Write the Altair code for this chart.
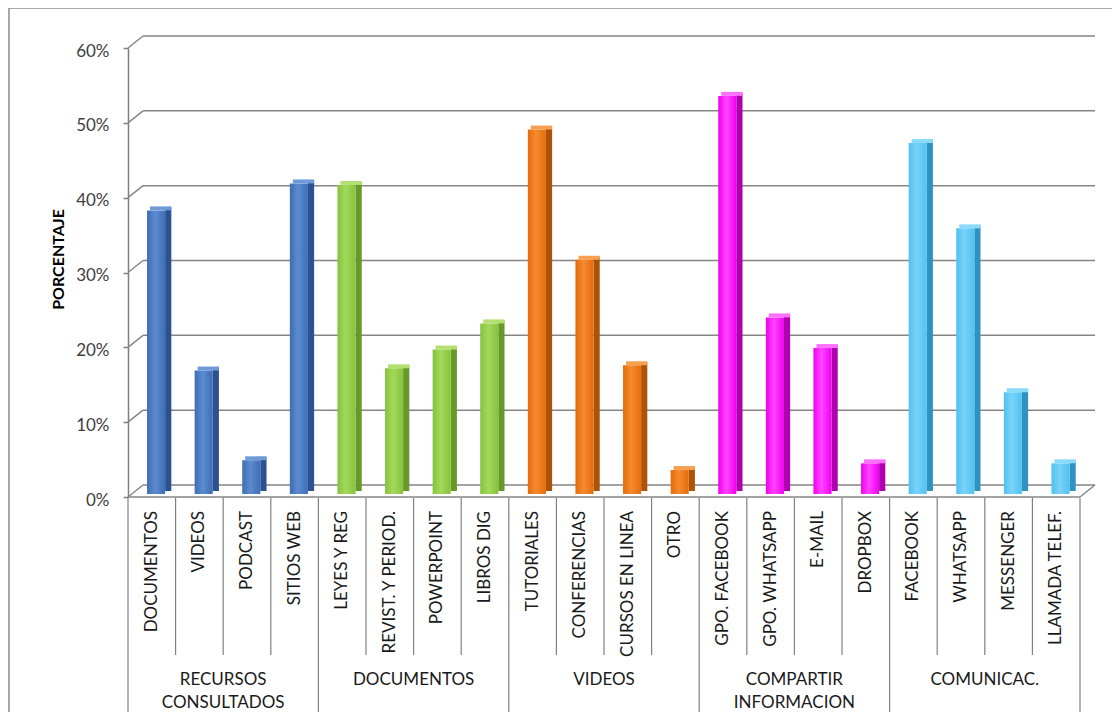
import altair as alt
import pandas as pd

categories = ["DOCUMENTOS", "VIDEOS", "PODCAST", "SITIOS WEB",
              "LEYES Y REG", "REVIST. Y PERIOD.", "POWERPOINT", "LIBROS DIG",
              "TUTORIALES", "CONFERENCIAS", "CURSOS EN LINEA", "OTRO",
              "GPO. FACEBOOK", "GPO. WHATSAPP", "E-MAIL", "DROPBOX",
              "FACEBOOK", "WHATSAPP", "MESSENGER", "LLAMADA TELEF."]
groups = ["RECURSOS\nCONSULTADOS"] * 4 + ["DOCUMENTOS"] * 4 + ["VIDEOS"] * 4 + \
         ["COMPARTIR\nINFORMACION"] * 4 + ["COMUNICAC."] * 4
values = [37.9, 16.5, 4.5, 41.5,
          41.3, 16.8, 19.3, 22.8,
          48.7, 31.3, 17.2, 3.2,
          53.2, 23.6, 19.5, 4.1,
          46.9, 35.5, 13.6, 4.1]
group_names = ["RECURSOS\nCONSULTADOS", "DOCUMENTOS", "VIDEOS",
               "COMPARTIR\nINFORMACION", "COMUNICAC."]
tick_values = [0.0, 0.1, 0.2, 0.3, 0.4, 0.5, 0.6]

palette = {
    "RECURSOS\nCONSULTADOS": ("#3E6DB4", "#5B8BD0", "#2A5192", "#6E9AD8"),
    "DOCUMENTOS": ("#86C23A", "#A3D95C", "#66982A", "#B2E070"),
    "VIDEOS": ("#E46C0A", "#F58A30", "#AE5206", "#F7A050"),
    "COMPARTIR\nINFORMACION": ("#EE00EE", "#FF45FF", "#AE00AE", "#FF70FF"),
    "COMUNICAC.": ("#4FC1F2", "#7AD3F8", "#2E92C2", "#8ADBFA"),
}

W, H = 952, 449
FONT = "Lato"

df = pd.DataFrame({
    "i": list(range(len(categories))),
    "category": categories,
    "group": groups,
    "value": [v / 100 for v in values],
})

xs = alt.Scale(domain=[0, len(categories)], nice=False, zero=False)
ys = alt.Scale(domain=[0, 0.6], nice=False)

base = alt.Chart(df)

# back wall gridlines
ticks_df = pd.DataFrame({"t": tick_values, "x0": 0, "x1": len(categories)})
grid = alt.Chart(ticks_df).mark_rule(
    color="#858585", strokeWidth=1.5, xOffset=15, x2Offset=15, yOffset=-12, y2Offset=-12
).encode(x=alt.X("x0:Q", scale=xs, axis=None), x2="x1:Q",
         y=alt.Y("t:Q", scale=ys,
                 axis=alt.Axis(values=tick_values, format=".0%", tickSize=5,
                               domainColor="#808080", tickColor="#808080",
                               domainWidth=1.5, tickWidth=1.5,
                               labelColor="#404040", labelFontSize=17, labelFont=FONT,
                               labelPadding=14, labelOffset=3, grid=False,
                               title="PORCENTAJE", titleFont=FONT, titleFontSize=16,
                               titleFontWeight="bold", titleColor="#000000",
                               titleX=-70, titleY=211, titleAngle=270,
                               titleAlign="center", titleBaseline="middle")),
         y2="t:Q")
conn = alt.Chart(ticks_df).mark_rule(
    color="#858585", strokeWidth=1.5, x2Offset=15, y2Offset=-12
).encode(x=alt.X("x0:Q", scale=xs), x2="x0:Q", y=alt.Y("t:Q", scale=ys), y2="t:Q")

floor_df = pd.DataFrame({"x0": [0], "x1": [len(categories)], "y0": [0.0]})
floor_front = alt.Chart(floor_df).mark_rule(color="#858585", strokeWidth=1.5).encode(
    x=alt.X("x0:Q", scale=xs), x2="x1:Q", y=alt.Y("y0:Q", scale=ys), y2="y0:Q")
floor_right = alt.Chart(floor_df).mark_rule(
    color="#858585", strokeWidth=1.5, x2Offset=15, y2Offset=-12
).encode(x=alt.X("x1:Q", scale=xs), x2="x1:Q", y=alt.Y("y0:Q", scale=ys), y2="y0:Q")

layers = [grid, conn, floor_front, floor_right]

for g in group_names:
    base_c, light_c, side_c, top_c = palette[g]
    sub = base.transform_filter(alt.datum.group == g).transform_calculate(
        a="datum.i + 0.40", b="datum.i + 0.78", c="datum.i + 0.91", z="0")
    grad = alt.Gradient(gradient="linear", x1=0, x2=1, y1=0, y2=0, stops=[
        alt.GradientStop(color=base_c, offset=0),
        alt.GradientStop(color=light_c, offset=0.45),
        alt.GradientStop(color=base_c, offset=1)])
    front = sub.mark_rect(color=grad, yOffset=-3, y2Offset=-3).encode(
        x=alt.X("a:Q", scale=xs), x2="b:Q",
        y=alt.Y("value:Q", scale=ys), y2="z:Q")
    side = sub.mark_rect(color=side_c, yOffset=-6, y2Offset=-6).encode(
        x=alt.X("b:Q", scale=xs), x2="c:Q",
        y=alt.Y("value:Q", scale=ys), y2="z:Q")
    top = sub.mark_rect(color=top_c, yOffset=-7, y2Offset=-3, xOffset=3).encode(
        x=alt.X("a:Q", scale=xs), x2="c:Q",
        y=alt.Y("value:Q", scale=ys), y2="value:Q")
    layers += [side, front, top]

# category labels
labels = base.transform_calculate(m="datum.i + 0.5").mark_text(
    angle=270, align="right", baseline="middle", font=FONT, fontSize=17,
    color="#1a1a1a"
).encode(x=alt.X("m:Q", scale=xs), y=alt.value(H + 14), text="category:N")
layers.append(labels)

# separators
sep_x = list(range(len(categories) + 1))
sep_df = pd.DataFrame({
    "x": sep_x,
    "major": [x % 4 == 0 for x in sep_x],
})
sep_minor = alt.Chart(sep_df).transform_filter(~alt.datum.major).mark_rule(
    color="#808080", strokeWidth=1.2
).encode(x=alt.X("x:Q", scale=xs), y=alt.value(H + 1), y2=alt.value(H + 158))
sep_major = alt.Chart(sep_df).transform_filter(alt.datum.major).mark_rule(
    color="#808080", strokeWidth=1.2
).encode(x=alt.X("x:Q", scale=xs), y=alt.value(H + 1), y2=alt.value(H + 218))
layers += [sep_minor, sep_major]

grp_df = pd.DataFrame({"g": group_names, "c": [2, 6, 10, 14, 18]})
grp_text = alt.Chart(grp_df).mark_text(
    font=FONT, fontSize=17, color="#1a1a1a", lineBreak="\n", lineHeight=23,
    baseline="middle", align="center"
).encode(x=alt.X("c:Q", scale=xs), y=alt.value(H + 183), text="g:N")
layers.append(grp_text)

# outer frame (top and left edges)
frame = alt.Chart(floor_df).mark_rule(color="#8c8c8c", strokeWidth=1.5).encode(
    x=alt.value(-119), x2=alt.value(W + 60), y=alt.value(-40))
frame_l = alt.Chart(floor_df).mark_rule(color="#8c8c8c", strokeWidth=1.5).encode(
    x=alt.value(-119), y=alt.value(-40), y2=alt.value(H + 230))
layers += [frame, frame_l]

chart = alt.layer(*layers).properties(
    width=W, height=H,
    autosize=alt.AutoSizeParams(type="none"),
    padding={"left": 120, "top": 40, "right": 32, "bottom": 215},
    background="white",
).configure_view(stroke=None)

chart.save("out.html", embed_options={"renderer": "svg", "actions": False})
